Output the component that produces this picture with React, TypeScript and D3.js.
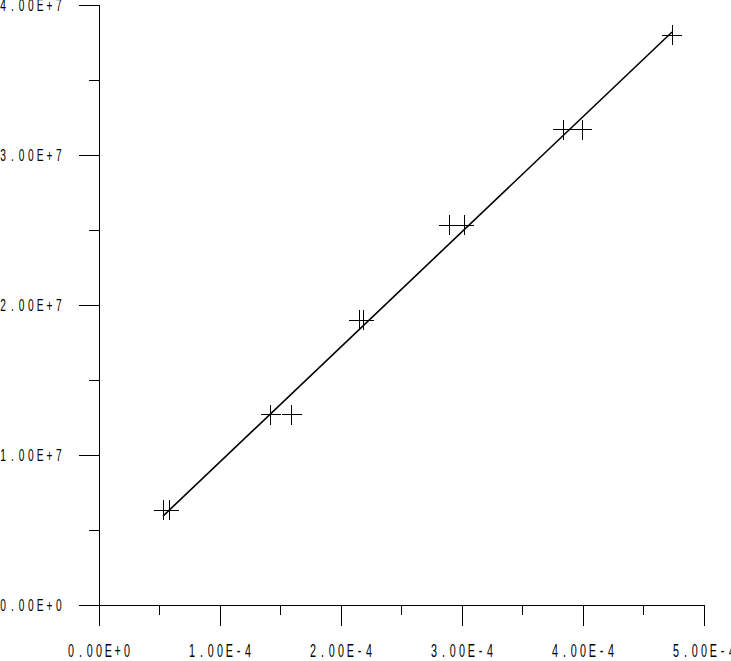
import React from "react";
import * as d3 from "d3";

const W = 731;
const H = 661;

// measured data (pairs of replicate measurements at each y level)
const pointX = [0.537e-4, 0.579e-4, 1.421e-4, 1.595e-4, 2.149e-4, 2.19e-4, 2.893e-4, 3.017e-4, 3.835e-4, 3.992e-4, 4.736e-4];
const pointY = [6.33e6, 6.33e6, 1.267e7, 1.267e7, 1.9e7, 1.9e7, 2.533e7, 2.533e7, 3.167e7, 3.167e7, 3.8e7];

// fitted line endpoints
const fitX = [0.529e-4, 4.736e-4];
const fitY = [5.93e6, 3.82e7];

const xMajor = [0, 1e-4, 2e-4, 3e-4, 4e-4, 5e-4];
const xMinor = [0.5e-4, 1.5e-4, 2.5e-4, 3.5e-4, 4.5e-4];
const yMajor = [0, 1e7, 2e7, 3e7, 4e7];
const yMinor = [0.5e7, 1.5e7, 2.5e7, 3.5e7];

function fmt(v: number): string {
  if (v === 0) return "0.00E+0";
  const e = Math.floor(Math.log10(Math.abs(v)) + 1e-9);
  const m = v / Math.pow(10, e);
  return m.toFixed(2) + "E" + (e >= 0 ? "+" : "-") + Math.abs(e);
}

const FONT = "'Liberation Sans', Arial, sans-serif";
const PITCH = 9.3;

function SpacedText({ s, x0, baseline, size }: { s: string; x0: number; baseline: number; size: number }) {
  return (
    <g>
      {s.split("").map((ch, i) => (
        <text
          key={i}
          transform={`translate(${x0 + i * PITCH},${baseline}) scale(0.6,1)`}
          textAnchor="middle"
          fontSize={size}
        >
          {ch}
        </text>
      ))}
    </g>
  );
}

export default function App() {
  const x = d3.scaleLinear().domain([0, 5e-4]).range([99, 704]);
  const y = d3.scaleLinear().domain([0, 4e7]).range([605, 5]);
  const line = d3
    .line<number>()
    .x((_, i) => x(fitX[i]))
    .y((_, i) => y(fitY[i]));
  const S = 10;
  return (
    <svg
      width={W}
      height={H}
      style={{ position: "absolute", left: 0, top: 0, background: "#fff" }}
    >
      <rect x={0} y={0} width={W} height={H} fill="#fff" />
      <g stroke="#000" strokeWidth={1} shapeRendering="crispEdges" fill="none">
        <line x1={x(0)} x2={x(5e-4)} y1={y(0)} y2={y(0)} />
        <line x1={x(0)} x2={x(0)} y1={y(0)} y2={y(4e7)} />
        {xMajor.map((v) => (
          <line key={"xm" + v} x1={x(v)} x2={x(v)} y1={y(0)} y2={y(0) + 21} />
        ))}
        {xMinor.map((v) => (
          <line key={"xn" + v} x1={x(v)} x2={x(v)} y1={y(0)} y2={y(0) + 10} />
        ))}
        {yMajor.map((v) => (
          <line key={"ym" + v} x1={x(0) - 20} x2={x(0)} y1={y(v)} y2={y(v)} />
        ))}
        {yMinor.map((v) => (
          <line key={"yn" + v} x1={x(0) - 10} x2={x(0)} y1={y(v)} y2={y(v)} />
        ))}
        {pointX.map((v, i) => (
          <g key={"p" + i}>
            <line x1={x(v) - S} x2={x(v) + S} y1={y(pointY[i])} y2={y(pointY[i])} />
            <line x1={x(v)} x2={x(v)} y1={y(pointY[i]) - S} y2={y(pointY[i]) + S} />
          </g>
        ))}
      </g>
      <path d={line(fitX) || ""} stroke="#000" strokeWidth={1.6} fill="none" />
      <g fontFamily={FONT} fill="#000">
        {xMajor.map((v) => (
          <SpacedText key={"xl" + v} s={fmt(v)} x0={x(v) - 3 * PITCH} baseline={657} size={18} />
        ))}
        {yMajor.map((v) => (
          <SpacedText key={"yl" + v} s={fmt(v)} x0={3} baseline={y(v) + 6} size={17} />
        ))}
      </g>
    </svg>
  );
}
